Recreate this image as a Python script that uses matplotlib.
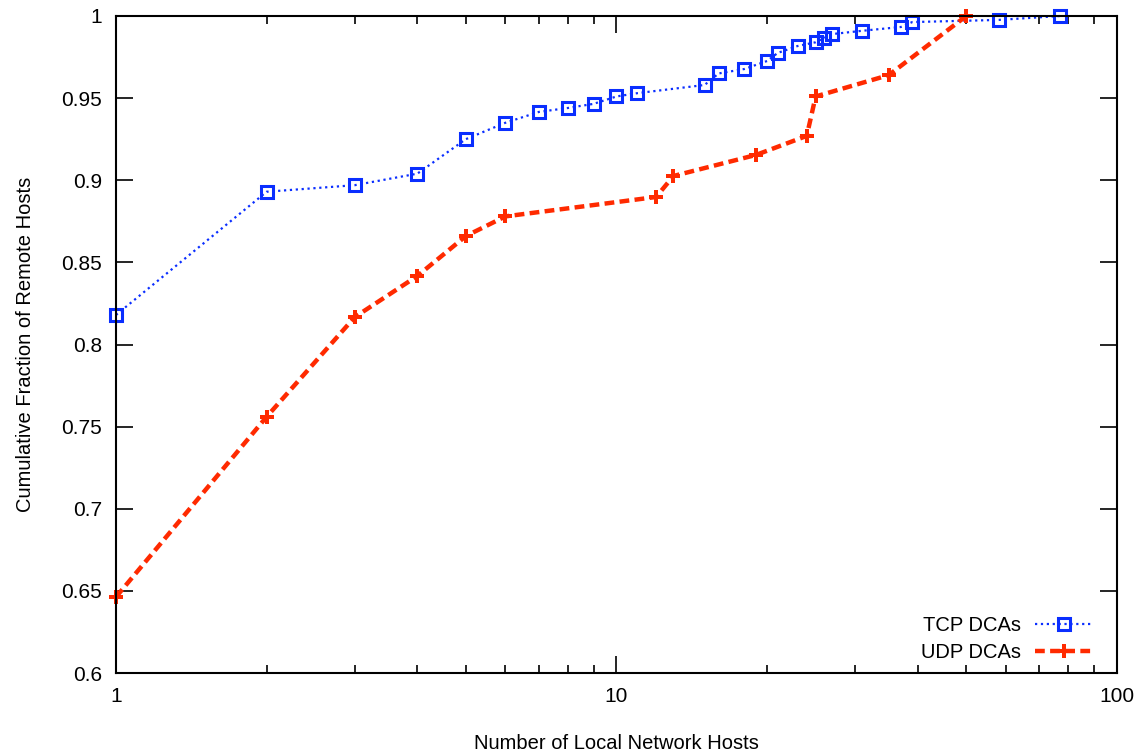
import matplotlib
matplotlib.use("Agg")
import matplotlib.pyplot as plt
from matplotlib.ticker import LogLocator, NullFormatter, FixedLocator

# TCP DCAs
tcp_x = [1, 2, 3, 4, 5, 6, 7, 8, 9, 10, 11, 15, 16, 18, 20, 21, 23, 25, 26, 27, 31, 37, 39, 58, 77]
tcp_y = [0.818, 0.893, 0.897, 0.904, 0.925, 0.935, 0.9416, 0.944, 0.9465, 0.951, 0.953,
         0.958, 0.965, 0.9677, 0.9726, 0.9775, 0.9817, 0.984, 0.9866, 0.989, 0.991,
         0.9933, 0.9963, 0.9976, 1.0]

# UDP DCAs
udp_x = [1, 2, 3, 4, 5, 6, 12, 13, 19, 24, 25, 35, 50]
udp_y = [0.6463, 0.756, 0.8167, 0.8417, 0.866, 0.878, 0.8898, 0.9026, 0.9154, 0.927,
         0.951, 0.964, 1.0]

y_ticks = [0.6, 0.65, 0.7, 0.75, 0.8, 0.85, 0.9, 0.95, 1]
y_labels = ["0.6", "0.65", "0.7", "0.75", "0.8", "0.85", "0.9", "0.95", "1"]

plt.rcParams['font.family'] = ['Liberation Sans', 'DejaVu Sans']

fig = plt.figure(figsize=(11.45, 7.54), dpi=100)
ax = fig.add_axes([0.1013, 0.1074, 0.8742, 0.8714])

ax.plot(tcp_x, tcp_y, color="#0a2eff", linestyle=":", linewidth=1.6,
        marker="s", markersize=9, markerfacecolor="none", markeredgewidth=2.2,
        label="TCP DCAs", clip_on=False)
ax.plot(udp_x, udp_y, color="#ff2a00", linestyle=(0, (2.2, 1.2)), linewidth=3.2,
        marker="P", markersize=10, markeredgewidth=0,
        label="UDP DCAs", clip_on=False)

ax.set_xscale("log")
ax.set_xlim(1, 100)
ax.set_ylim(0.6, 1.0)
ax.xaxis.set_major_locator(FixedLocator([1, 10, 100]))
ax.set_xticklabels(["1", "10", "100"])
ax.xaxis.set_minor_locator(LogLocator(base=10, subs=range(2, 10)))
ax.xaxis.set_minor_formatter(NullFormatter())
ax.set_yticks(y_ticks)
ax.set_yticklabels(y_labels)

ax.tick_params(which="both", direction="in", top=True, right=True, labelsize=15, width=1.2)
ax.tick_params(which="major", length=12, pad=10)
ax.tick_params(which="minor", length=6)
for s in ax.spines.values():
    s.set_linewidth(1.5)

ax.set_xlabel("Number of Local Network Hosts", fontsize=14.5, labelpad=20)
ax.set_ylabel("Cumulative Fraction of Remote Hosts", fontsize=14.5, labelpad=19)

ax.legend(loc="lower right", bbox_to_anchor=(0.983, 0.004), borderaxespad=0,
          frameon=False, markerfirst=False, fontsize=14.5,
          handlelength=2.8, labelspacing=0.4, handletextpad=0.7)

fig.savefig("out.png", dpi=100)
